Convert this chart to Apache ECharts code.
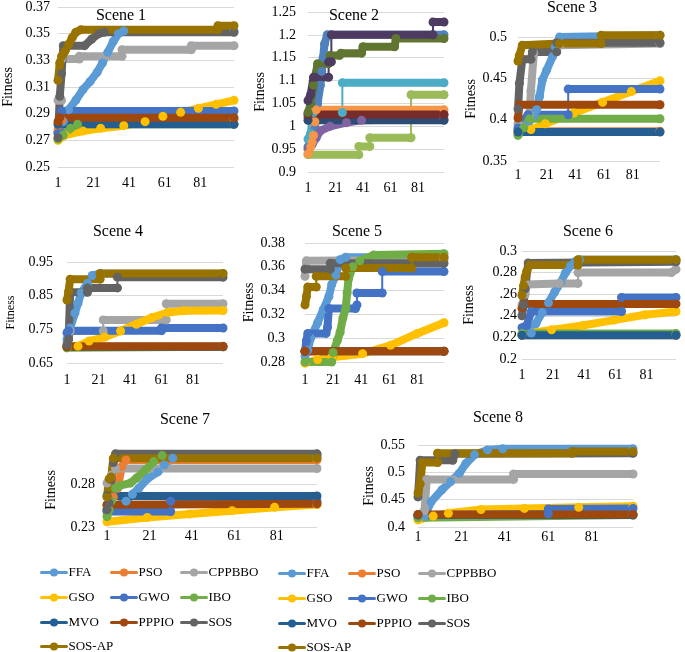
<!DOCTYPE html>
<html>
<head>
<meta charset="utf-8">
<script src="https://cdn.jsdelivr.net/npm/echarts@6/dist/echarts.min.js"></script>
<style>
html,body{margin:0;padding:0;background:#fff;}
#chart{width:685px;height:652px;}
</style>
</head>
<body>
<div id="chart"></div>
<script>
// ---------------- DATA ----------------
const algos = ['FFA','PSO','CPPBBO','GSO','GWO','IBO','MVO','PPPIO','SOS','SOS-AP'];
const sceneNames = ['Scene 1','Scene 2','Scene 3','Scene 4','Scene 5','Scene 6','Scene 7','Scene 8'];
const xTicks = [1,21,41,61,81];

// y tick values and labels per scene
const yTicks1 = [0.25,0.27,0.29,0.31,0.33,0.35,0.37];
const yLabels1 = ['0.25','0.27','0.29','0.31','0.33','0.35','0.37'];
const yTicks2 = [0.9,0.95,1,1.05,1.1,1.15,1.2,1.25];
const yLabels2 = ['0.9','0.95','1','1.05','1.1','1.15','1.2','1.25'];
const yTicks3 = [0.35,0.4,0.45,0.5];
const yLabels3 = ['0.35','0.4','0.45','0.5'];
const yTicks4 = [0.65,0.75,0.85,0.95];
const yLabels4 = ['0.65','0.75','0.85','0.95'];
const yTicks5 = [0.28,0.3,0.32,0.34,0.36,0.38];
const yLabels5 = ['0.28','0.3','0.32','0.34','0.36','0.38'];
const yTicks6 = [0.2,0.22,0.24,0.26,0.28,0.3];
const yLabels6 = ['0.2','0.22','.24','.26','0.28','0.3'];
const yTicks7 = [0.23,0.28];
const yLabels7 = ['0.23','0.28'];
const yTicks8 = [0.4,0.45,0.5,0.55];
const yLabels8 = ['0.4','0.45','0.5','0.55'];
const yRange = [[0.25,0.37],[0.9,1.25],[0.35,0.5],[0.65,0.95],[0.28,0.38],[0.2,0.3],[0.23,0.316],[0.4,0.55]];

// convergence curves: [iteration, fitness] breakpoints, order = algos
const scene1 = [
  [[1,0.276],[4,0.284],[7,0.293],[11,0.300],[15,0.308],[19,0.314],[23,0.321],[26,0.328],[29,0.336],[32,0.344],[35,0.35],[38,0.352],[100,0.352]],
  [[1,0.277],[3,0.285],[100,0.286]],
  [[1,0.300],[3,0.300],[3,0.331],[13,0.331],[13,0.333],[37,0.333],[37,0.338],[76,0.338],[76,0.341],[100,0.341]],
  [[1,0.270],[5,0.274],[15,0.277],[25,0.279],[38,0.281],[50,0.284],[60,0.288],[70,0.291],[80,0.294],[90,0.297],[100,0.300]],
  [[1,0.275],[3,0.275],[3,0.292],[100,0.292]],
  [[1,0.271],[4,0.274],[8,0.279],[12,0.282],[100,0.282]],
  [[1,0.282],[100,0.282]],
  [[1,0.284],[2,0.287],[100,0.287]],
  [[1,0.272],[2,0.303],[3,0.32],[4,0.341],[16,0.341],[20,0.346],[24,0.35],[27,0.351],[100,0.351]],
  [[1,0.315],[2,0.328],[3,0.333],[5,0.337],[7,0.342],[9,0.347],[11,0.351],[14,0.353],[91,0.353],[91,0.356],[100,0.356]]
];
const scene2 = [
  [[1,0.955],[4,0.97],[6,0.995],[8,1.05],[10,1.09],[11,1.12],[12,1.15],[13,1.18],[15,1.2],[100,1.2]],
  [[1,1.02],[100,1.025]],
  [[1,0.938],[38,0.938],[38,0.956],[46,0.956],[46,0.975],[76,0.975],[76,1.069],[100,1.069]],
  [[1,0.95],[4,0.96],[7,0.975],[10,0.99],[17,1.0],[29,1.008],[40,1.013],[100,1.016]],
  [[1,0.972],[3,0.985],[5,1.03],[26,1.03],[26,1.095],[100,1.095]],
  [[1,0.94],[3,0.955],[4,0.965],[5,0.98],[6,1.01],[7,1.036],[100,1.036]],
  [[1,1.013],[100,1.013]],
  [[1,1.026],[100,1.026]],
  [[1,1.03],[3,1.05],[5,1.09],[8,1.137],[16,1.137],[17,1.155],[24,1.155],[25,1.16],[40,1.16],[41,1.174],[64,1.174],[65,1.192],[100,1.192]],
  [[1,1.056],[3,1.07],[5,1.107],[16,1.107],[16,1.141],[18,1.141],[18,1.2],[92,1.2],[92,1.228],[100,1.228]]
];
const scene3 = [
  [[1,0.388],[8,0.395],[12,0.405],[14,0.412],[16,0.428],[18,0.448],[21,0.46],[25,0.476],[27,0.488],[30,0.5],[100,0.502]],
  [[1,0.386],[100,0.386]],
  [[1,0.395],[9,0.405],[10,0.435],[12,0.48],[30,0.49],[100,0.492]],
  [[1,0.383],[10,0.388],[20,0.395],[40,0.408],[60,0.421],[80,0.434],[100,0.447]],
  [[1,0.39],[8,0.406],[36,0.406],[36,0.437],[100,0.437]],
  [[1,0.381],[5,0.39],[9,0.401],[100,0.401]],
  [[1,0.385],[100,0.385]],
  [[1,0.402],[2,0.418],[100,0.418]],
  [[1,0.413],[2,0.444],[4,0.473],[10,0.473],[11,0.482],[28,0.482],[28,0.493],[100,0.493]],
  [[1,0.471],[2,0.478],[4,0.49],[30,0.492],[59,0.492],[59,0.502],[100,0.502]]
];
const scene4 = [
  [[1,0.72],[3,0.754],[6,0.798],[8,0.828],[10,0.858],[14,0.887],[17,0.91],[22,0.915],[100,0.915]],
  [[1,0.70],[100,0.70]],
  [[1,0.70],[3,0.745],[24,0.745],[24,0.778],[64,0.778],[64,0.826],[100,0.826]],
  [[1,0.695],[8,0.70],[15,0.715],[25,0.727],[35,0.745],[45,0.765],[55,0.785],[65,0.8],[75,0.805],[100,0.806]],
  [[1,0.74],[2,0.746],[61,0.746],[61,0.754],[100,0.754]],
  [[1,0.695],[100,0.698]],
  [[1,0.698],[100,0.698]],
  [[1,0.699],[100,0.699]],
  [[1,0.705],[2,0.72],[3,0.86],[14,0.86],[14,0.873],[33,0.873],[33,0.905],[100,0.905]],
  [[1,0.837],[2,0.862],[3,0.899],[22,0.899],[22,0.916],[100,0.916]]
];
const scene5 = [
  [[1,0.285],[3,0.29],[5,0.30],[10,0.313],[14,0.324],[18,0.335],[20,0.345],[23,0.353],[26,0.366],[30,0.368],[100,0.368]],
  [[1,0.289],[100,0.289]],
  [[1,0.352],[2,0.365],[100,0.366]],
  [[1,0.279],[10,0.282],[20,0.284],[42,0.287],[62,0.294],[81,0.304],[100,0.313]],
  [[1,0.289],[2,0.298],[3,0.304],[16,0.304],[17,0.309],[18,0.325],[37,0.325],[38,0.328],[38,0.338],[56,0.338],[56,0.356],[100,0.356]],
  [[1,0.28],[20,0.28],[21,0.288],[24,0.298],[26,0.305],[28,0.317],[30,0.325],[31,0.338],[32,0.35],[35,0.36],[40,0.365],[50,0.37],[100,0.371]],
  [[1,0.289],[100,0.289]],
  [[1,0.289],[100,0.289]],
  [[1,0.358],[19,0.358],[19,0.363],[100,0.363]],
  [[1,0.328],[2,0.335],[3,0.343],[9,0.343],[9,0.352],[30,0.352],[30,0.359],[77,0.359],[77,0.368],[100,0.368]]
];
const scene6 = [
  [[1,0.222],[7,0.224],[10,0.233],[14,0.243],[18,0.252],[22,0.262],[26,0.271],[29,0.28],[32,0.286],[35,0.29],[38,0.292],[100,0.292]],
  [[1,0.222],[100,0.222]],
  [[1,0.25],[3,0.26],[4,0.269],[25,0.27],[37,0.27],[37,0.28],[97,0.28],[100,0.283]],
  [[1,0.223],[20,0.227],[40,0.231],[60,0.236],[80,0.241],[100,0.244]],
  [[1,0.229],[4,0.231],[7,0.244],[65,0.244],[65,0.257],[100,0.257]],
  [[1,0.2235],[100,0.2235]],
  [[1,0.222],[100,0.222]],
  [[1,0.247],[2,0.251],[100,0.251]],
  [[1,0.24],[2,0.25],[3,0.265],[5,0.289],[100,0.29]],
  [[1,0.259],[2,0.268],[3,0.276],[4,0.281],[6,0.287],[37,0.287],[37,0.292],[100,0.292]]
];
const scene7 = [
  [[1,0.25],[10,0.26],[13,0.268],[16,0.275],[20,0.286],[25,0.294],[28,0.302],[32,0.31],[100,0.312]],
  [[1,0.255],[4,0.265],[6,0.275],[8,0.3],[10,0.308],[100,0.308]],
  [[1,0.281],[3,0.29],[5,0.298],[100,0.298]],
  [[1,0.236],[20,0.241],[40,0.245],[60,0.249],[80,0.253],[100,0.256]],
  [[1,0.248],[31,0.248],[31,0.26],[100,0.26]],
  [[1,0.242],[2,0.25],[3,0.26],[5,0.275],[7,0.278],[12,0.281],[15,0.287],[19,0.296],[23,0.306],[27,0.313],[100,0.314]],
  [[1,0.266],[100,0.266]],
  [[1,0.256],[100,0.257]],
  [[1,0.25],[2,0.258],[3,0.285],[4,0.305],[5,0.315],[100,0.315]],
  [[1,0.265],[2,0.286],[3,0.288],[4,0.31],[100,0.31]]
];
const scene8 = [
  [[1,0.418],[4,0.419],[7,0.446],[12,0.468],[16,0.483],[20,0.498],[23,0.516],[27,0.532],[33,0.541],[40,0.543],[100,0.543]],
  [[1,0.42],[100,0.423]],
  [[1,0.42],[4,0.43],[5,0.487],[45,0.487],[45,0.497],[100,0.497]],
  [[1,0.413],[8,0.42],[15,0.425],[30,0.432],[50,0.434],[75,0.436],[100,0.438]],
  [[1,0.422],[61,0.424],[61,0.433],[100,0.434]],
  [[1,0.417],[100,0.422]],
  [[1,0.422],[100,0.422]],
  [[1,0.423],[100,0.423]],
  [[1,0.455],[2,0.522],[17,0.522],[18,0.534],[100,0.535]],
  [[1,0.462],[2,0.479],[3,0.518],[10,0.518],[10,0.535],[72,0.535],[72,0.538],[100,0.538]]
];
const scenes = [scene1,scene2,scene3,scene4,scene5,scene6,scene7,scene8];
const yTicks = [yTicks1,yTicks2,yTicks3,yTicks4,yTicks5,yTicks6,yTicks7,yTicks8];
const yLabels = [yLabels1,yLabels2,yLabels3,yLabels4,yLabels5,yLabels6,yLabels7,yLabels8];

// ---------------- STYLE / LAYOUT ----------------
const palette = ['#5B9BD5','#ED7D31','#A5A5A5','#FFC000','#4472C4','#70AD47','#255E91','#9E480E','#636363','#997300'];
const palette2 = ['#4F81BD','#C0504D','#9BBB59','#8064A2','#4BACC6','#F79646','#2C4D75','#772C2A','#5F7530','#4D3B62'];
const FONT = "'Liberation Serif','Times New Roman',serif";
const layout = [
  {g:[58,7,176,160],  t:[121,17], ym:8,  xm:9,  ng:43, nf:14},
  {g:[308,12,136,160],t:[354,17], ym:12, xm:9,  ng:37, nf:14},
  {g:[518,37,142,124],t:[572,9],  ym:11, xm:7,  ng:40, nf:14},
  {g:[67,262,156,101],t:[118,233],ym:14, xm:10, ng:50, nf:12},
  {g:[305,243,139,119],t:[357,233],ym:20,xm:11, ng:42, nf:14},
  {g:[522,251,154,108],t:[588,233],ym:5, xm:9,  ng:46, nf:14},
  {g:[107,453,210,74],t:[185,421],ym:12, xm:2,  ng:49, nf:14},
  {g:[418,445,215,82],t:[498,419],ym:13, xm:3,  ng:42, nf:14}
];

function withGaps(pts){
  const out=[];
  for(let k=0;k<pts.length;k++){
    if(k>0 && pts[k][0]===pts[k-1][0]) out.push([pts[k][0],'-']);
    out.push(pts[k]);
  }
  return out;
}

const grids=[], xAxes=[], yAxes=[], titles=[], series=[];
scenes.forEach((sc, s) => {
  const L = layout[s];
  grids.push({left:L.g[0], top:L.g[1], width:L.g[2], height:L.g[3]});
  titles.push({text:sceneNames[s], left:L.t[0], top:L.t[1]-9, textAlign:'center', padding:0,
    textStyle:{fontFamily:FONT, fontSize:16, fontWeight:'normal', color:'#000'}});
  xAxes.push({type:'value', gridIndex:s, min:1, max:100,
    axisLine:{show:false}, axisTick:{show:false, customValues:xTicks}, splitLine:{show:false},
    axisLabel:{customValues:xTicks, margin:L.xm, fontFamily:FONT, fontSize:14, color:'#000'}});
  const tv = yTicks[s], tl = yLabels[s];
  yAxes.push({type:'value', gridIndex:s, min:yRange[s][0], max:yRange[s][1],
    name:'Fitness', nameLocation:'middle', nameRotate:90, nameGap:L.ng,
    nameTextStyle:{fontFamily:FONT, fontSize:L.nf, color:'#000'},
    axisLine:{show:false}, axisTick:{show:false, customValues:tv},
    splitLine:{show:true, lineStyle:{color:'#D9D9D9', width:1}},
    axisLabel:{customValues:tv, margin:L.ym, fontFamily:FONT, fontSize:14, color:'#000',
      formatter:(v)=>{ for(let k=0;k<tv.length;k++){ if(Math.abs(tv[k]-v)<1e-9) return tl[k]; } return ''; }}});
  const pal = s===1 ? palette2 : palette;
  sc.forEach((pts, i) => {
    series.push({type:'line', name:algos[i], xAxisIndex:s, yAxisIndex:s, data:withGaps(pts),
      color:pal[i], symbol:'circle', symbolSize:9, showSymbol:true, clip:false, animation:false, silent:true,
      lineStyle:{width:8, cap:'round', join:'round', color:pal[i]}, itemStyle:{color:pal[i]}});
    series.push({type:'line', name:algos[i], xAxisIndex:s, yAxisIndex:s, data:pts,
      color:pal[i], symbol:'none', showSymbol:false, clip:false, animation:false, silent:true,
      lineStyle:{width:2, color:pal[i]}});
  });
});

// legend: three columns per block plus a last row with SOS-AP
const legendCols = [['FFA','GSO','MVO'],['PSO','GWO','PPPIO'],['CPPBBO','IBO','SOS'],['SOS-AP']];
const legends = [];
[[40,110,180,566],[278,348,418,567]].forEach(p => {
  legendCols.forEach((names, c) => {
    const left = c===3 ? p[0] : p[c];
    const top = c===3 ? p[3] + 74 : p[3];
    legends.push({data:names, orient:'vertical', left:left, top:top, itemWidth:25, itemHeight:10,
      itemGap:12, padding:0, selectedMode:false,
      lineStyle:{width:3}, textStyle:{fontFamily:FONT, fontSize:13, color:'#000', padding:[0,0,0,-3]}});
  });
});

const chart = echarts.init(document.getElementById('chart'), null, {renderer:'canvas'});
chart.setOption({
  backgroundColor:'#fff',
  animation:false,
  title:titles, grid:grids, xAxis:xAxes, yAxis:yAxes, legend:legends, series:series
});
</script>
</body>
</html>
